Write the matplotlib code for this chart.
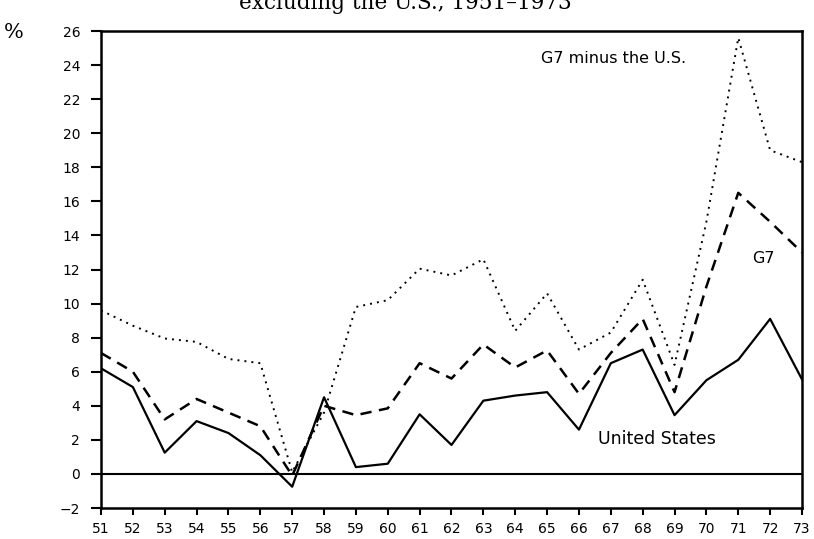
import matplotlib
matplotlib.use("Agg")
import matplotlib.pyplot as plt

# Years 1951-1973 (two-digit labels) and annual rates in percent
years = list(range(51, 74))
year_labels = [str(y) for y in years]

united_states = [6.2, 5.1, 1.25, 3.1, 2.4, 1.1, -0.75, 4.5, 0.4, 0.6, 3.5, 1.7,
                 4.3, 4.6, 4.8, 2.6, 6.5, 7.3, 3.45, 5.5, 6.7, 9.1, 5.55]
g7 = [7.1, 6.0, 3.2, 4.4, 3.6, 2.8, -0.1, 4.0, 3.45, 3.85, 6.5, 5.6,
      7.6, 6.25, 7.25, 4.7, 7.1, 9.1, 4.8, 11.0, 16.5, 14.8, 13.0]
g7_minus_us = [9.6, 8.7, 7.95, 7.75, 6.75, 6.5, 0.1, 3.6, 9.8, 10.2, 12.05, 11.65,
               12.6, 8.4, 10.6, 7.3, 8.3, 11.4, 6.4, 14.8, 25.6, 19.0, 18.3]

y_ticks = list(range(-2, 27, 2))

fig = plt.figure(figsize=(8.14, 5.39), dpi=100)
ax = fig.add_axes([101 / 814, 31 / 539, 701 / 814, 477 / 539])

ax.plot(years, united_states, color="black", lw=1.6, ls="-")
ax.plot(years, g7, color="black", lw=1.8, ls=(0, (4.5, 3)))
ax.plot(years, g7_minus_us, color="black", lw=1.4, ls=(0, (1, 2.6)))

ax.axhline(0, color="black", lw=1.5)

ax.set_xlim(51, 73)
ax.set_ylim(-2, 26)
ax.set_xticks(years)
ax.set_xticklabels(year_labels)
ax.set_yticks(y_ticks)
ax.tick_params(axis="both", direction="out", length=7, width=1.5,
               labelsize=10, colors="black")
ax.tick_params(axis="y", pad=8)
ax.tick_params(axis="x", length=5, pad=5)
for side in ax.spines.values():
    side.set_linewidth(1.8)

ax.text(64.8, 24.4, "G7 minus the U.S.", fontsize=11.5, va="center", ha="left")
ax.text(71.45, 12.65, "G7", fontsize=11.5, va="center", ha="left")
ax.text(66.6, 2.05, "United States", fontsize=12.5, va="center", ha="left")

fig.text(14 / 814, 1 - 33 / 539, "%", fontsize=15, family="DejaVu Serif",
         ha="center", va="center")
fig.text(405 / 814, 1 - 9 / 539, "excluding the U.S., 1951\u20131973",
         fontsize=15.5, family="DejaVu Serif", ha="center", va="baseline")

fig.savefig("out.png", dpi=100)
